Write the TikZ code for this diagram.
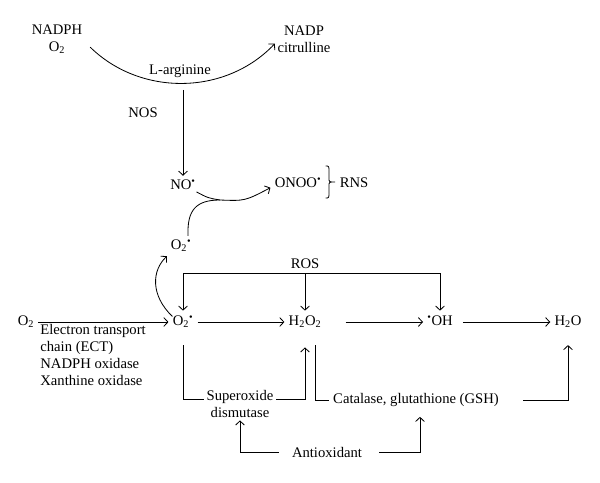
\documentclass[tikz,border=0pt]{standalone}
\usepackage{fontspec}
\setmainfont{Liberation Serif}
\usetikzlibrary{arrows.meta}
\begin{document}
\begin{tikzpicture}[x=0.03cm,y=-0.03cm,line width=0.7pt,
    >={Straight Barb[length=3.5pt,width=7.5pt]},
    every node/.style={font=\fontsize{12.5}{14.5}\selectfont},
    txt/.style={align=center,inner sep=2pt},
    species/.style={text height=9pt,text depth=3pt}]
    \useasboundingbox (0,0) rectangle (600,482);

    % NOS pathway
    \node[txt] (nadph) at (57,39) {NADPH\\O\textsubscript{2}};
    \node[txt] (nadp) at (304,39) {NADP\\citrulline};
    \node (larg) at (180,71) {L-arginine};
    \draw[->] ([xshift=4.5pt,yshift=-7pt]nadph.east) .. controls (140,96) and (225,96) .. ([yshift=-4pt]nadp.west);
    \node (no) at (183,185) {NO\textsuperscript{\textbullet}};
    \node (nos) at (143,113) {NOS};
    \draw[->,shorten <=7pt] (larg.south -| no.north) -- (no.north);

    % RNS
    \node (onoo) at (298,183) {ONOO\textsuperscript{\textbullet}};
    \node (rns) at (354,183) {RNS};
    \draw (onoo.east |- 0,166) .. controls (329,166) .. (329,172) -- (329,178)
        .. controls (329,182) .. (335,182) .. controls (329,182) .. (329,186)
        -- (329,192) .. controls (329,198) .. (onoo.east |- 0,198);
    \node (o2up) at (181,246) {O\textsubscript{2}\textsuperscript{\textbullet}};
    \coordinate (merge) at (220,200);
    \draw[->] ([xshift=-3pt,yshift=2pt]no.south east) .. controls (208,198) .. (merge)
        .. controls (245,201) .. ([yshift=-4pt]onoo.west);
    \draw ([xshift=6pt]o2up.north) .. controls (187,210) and (196,200) .. (merge);

    % main row
    \node[species] (o2in) at (26,322) {O\textsubscript{2}};
    \node[species] (o2) at (183,322) {O\textsubscript{2}\textsuperscript{\textbullet}};
    \node[species] (h2o2) at (305,322) {H\textsubscript{2}O\textsubscript{2}};
    \node[species] (oh) at (440,322) {\textsuperscript{\textbullet}OH};
    \node[species] (h2o) at (568,322) {H\textsubscript{2}O};
    \node[anchor=north west,align=left,inner sep=0pt] (ect) at (40,324)
        {Electron transport\\chain (ECT)\\NADPH oxidase\\Xanthine oxidase};
    \draw[->] (o2in) -- (o2);
    \draw[->] (o2) -- (h2o2);
    \draw[->,shorten <=17pt] (h2o2) -- (oh);
    \draw[->,shorten <=5pt] (oh) -- (h2o);
    \draw[->] ([xshift=-9pt,yshift=-5pt]o2.north) .. controls (150,295) and (152,270) .. ([xshift=-12pt]o2up.south);

    % ROS
    \coordinate (ros) at (305,273);
    \node[above] (roslbl) at (ros) {ROS};
    \draw (o2.north |- ros) -- (oh.north |- ros);
    \draw[->] (o2.north |- ros) -- (o2.north);
    \draw[->] (ros) -- (h2o2.north);
    \draw[->] (oh.north |- ros) -- (oh.north);

    % antioxidants
    \node[txt] (sod) at (240,404) {Superoxide\\dismutase};
    \node (cat) at (416,400) {Catalase, glutathione (GSH)};
    \node (anti) at (327,452) {Antioxidant};
    \draw[shorten <=10pt] (o2.south) |- ([yshift=3.5pt]sod.west);
    \draw[->,shorten >=12pt] ([yshift=3.5pt]sod.east) -| (h2o2.south);
    \draw[shorten <=10pt] ([xshift=8.5pt]h2o2.south) |- (cat.west);
    \draw[->,shorten <=17pt,shorten >=10pt] (cat.east) -| (h2o.south);
    \draw[->,shorten <=7.5pt] (anti.west) -| (sod.south);
    \draw[->,shorten <=11pt,shorten >=5pt] (anti.east) -| ([xshift=3.4pt]cat.south);
\end{tikzpicture}
\end{document}
